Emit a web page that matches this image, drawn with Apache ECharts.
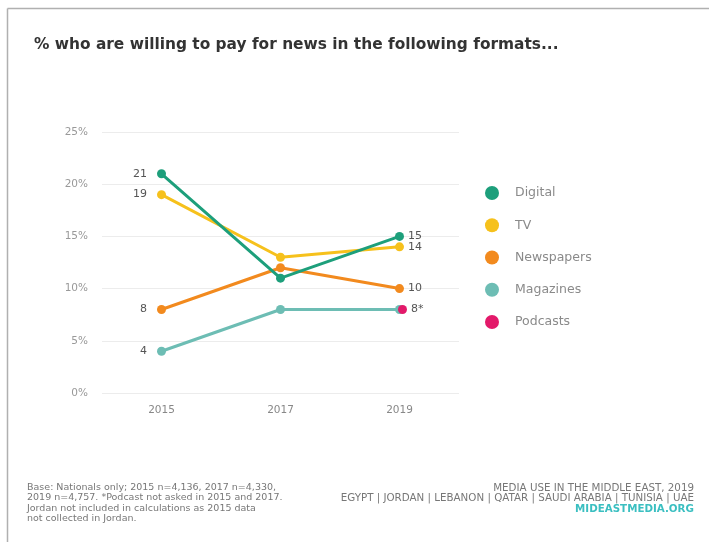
<!DOCTYPE html>
<html>
<head>
<meta charset="utf-8">
<script src="https://cdn.jsdelivr.net/npm/echarts@6/dist/echarts.min.js"></script>
<style>
  html, body { margin: 0; padding: 0; background: #fff; }
  #chart { width: 709px; height: 542px; }
</style>
</head>
<body>
<div id="chart"></div>
<script>
// Survey years on the x axis
const years = ['2015', '2017', '2019'];

// Share (%) willing to pay for news, by format
const digital = [21, 11, 15];
const tv = [19, 13, 14];
const newspapers = [8, 12, 10];
const magazines = [4, 8, 8];
const podcasts = [null, null, 8]; // only asked in 2019

const yTicks = [0, 5, 10, 15, 20, 25];

const colors = {
  Digital: '#1d9f7b',
  TV: '#f6c11c',
  Newspapers: '#f28a1e',
  Magazines: '#6dbdb4',
  Podcasts: '#e3196a'
};

const FONT = '"DejaVu Sans", sans-serif';

// Value labels only at the first and last year
function endLabels(showFirst, showLast, suffix) {
  return function (p) {
    if (p.dataIndex === 0 && showFirst) return p.value + (suffix || '');
    if (p.dataIndex === years.length - 1 && showLast) return p.value + (suffix || '');
    return '';
  };
}

function lineSeries(name, data, opts) {
  opts = opts || {};
  const s = {
    name: name,
    type: 'line',
    data: data.map(function (v, i) {
      if (v === null) return v;
      return {
        value: v,
        label: i === 0 ? { position: 'left', distance: 10 } : { position: 'right', distance: 4 }
      };
    }),
    symbol: 'circle',
    symbolSize: 9,
    lineStyle: { width: 3, color: colors[name] },
    itemStyle: { color: colors[name] },
    label: {
      show: true,
      color: '#555',
      fontSize: 11,
      fontFamily: FONT,
      formatter: endLabels(opts.first !== false, opts.last !== false, opts.suffix)
    },
    emphasis: { disabled: true },
    z: opts.z || 2
  };
  if (opts.symbolOffset) s.symbolOffset = opts.symbolOffset;
  return s;
}

// Footer lines, each a single right-aligned text element
const footRight = [
  { text: 'MEDIA USE IN THE MIDDLE EAST, 2019', fill: '#777', bold: false },
  { text: 'EGYPT | JORDAN | LEBANON | QATAR | SAUDI ARABIA | TUNISIA | UAE', fill: '#777', bold: false },
  { text: 'MIDEASTMEDIA.ORG', fill: '#3bbfc1', bold: true }
];

const chart = echarts.init(document.getElementById('chart'), null, { renderer: 'canvas' });

const graphics = [
  // outer frame: top and left rules
  { type: 'line', shape: { x1: 7.5, y1: 8.5, x2: 709, y2: 8.5 }, style: { stroke: '#b0b0b0', lineWidth: 1.5 } },
  { type: 'line', shape: { x1: 7.5, y1: 8.5, x2: 7.5, y2: 542 }, style: { stroke: '#b0b0b0', lineWidth: 1.5 } },
  {
    type: 'text', x: 27, y: 482,
    style: {
      text: 'Base: Nationals only; 2015 n=4,136, 2017 n=4,330,\n2019 n=4,757. *Podcast not asked in 2015 and 2017.\nJordan not included in calculations as 2015 data\nnot collected in Jordan.',
      fill: '#777', fontSize: 9.5, lineHeight: 10.5, fontFamily: FONT
    }
  }
];
footRight.forEach(function (ln, i) {
  graphics.push({
    type: 'text', x: 694, y: 488 + i * 10.5,
    style: {
      text: ln.text, fill: ln.fill, fontSize: 10.3, fontFamily: FONT,
      fontWeight: ln.bold ? 'bold' : 'normal',
      align: 'right', verticalAlign: 'middle'
    }
  });
});

chart.setOption({
  backgroundColor: '#fff',
  animation: false,
  title: {
    text: '% who are willing to pay for news in the following formats...',
    left: 34,
    top: 37,
    padding: 0,
    textStyle: { fontSize: 15.4, fontWeight: 'bold', color: '#333', fontFamily: FONT }
  },
  legend: {
    orient: 'vertical',
    left: 485,
    top: 186,
    padding: 0,
    icon: 'circle',
    itemWidth: 14,
    itemHeight: 14,
    itemGap: 18.25,
    data: ['Digital', 'TV', 'Newspapers', 'Magazines', 'Podcasts'],
    textStyle: { color: '#8a8a8a', fontSize: 12.5, fontFamily: FONT, padding: [0, 0, 0, 11] },
    selectedMode: false
  },
  grid: { left: 102, top: 132, width: 357, height: 261 },
  xAxis: {
    type: 'category',
    data: years,
    boundaryGap: true,
    axisLine: { show: false },
    axisTick: { show: false },
    axisLabel: { color: '#888', fontSize: 10.5, fontFamily: FONT, margin: 12 }
  },
  yAxis: {
    type: 'value',
    min: yTicks[0],
    max: yTicks[yTicks.length - 1],
    interval: 5,
    axisLine: { show: false },
    axisTick: { show: false },
    splitLine: { lineStyle: { color: '#ececec', width: 1 } },
    axisLabel: { color: '#999', fontSize: 10.5, fontFamily: FONT, margin: 14, formatter: '{value}%' }
  },
  series: [
    lineSeries('Magazines', magazines, { last: false, z: 2 }),
    lineSeries('Newspapers', newspapers, { z: 3 }),
    lineSeries('TV', tv, { z: 4 }),
    lineSeries('Digital', digital, { z: 5 }),
    lineSeries('Podcasts', podcasts, { suffix: '*', z: 6, symbolOffset: [3, 0] })
  ],
  graphic: graphics
});
</script>
</body>
</html>
